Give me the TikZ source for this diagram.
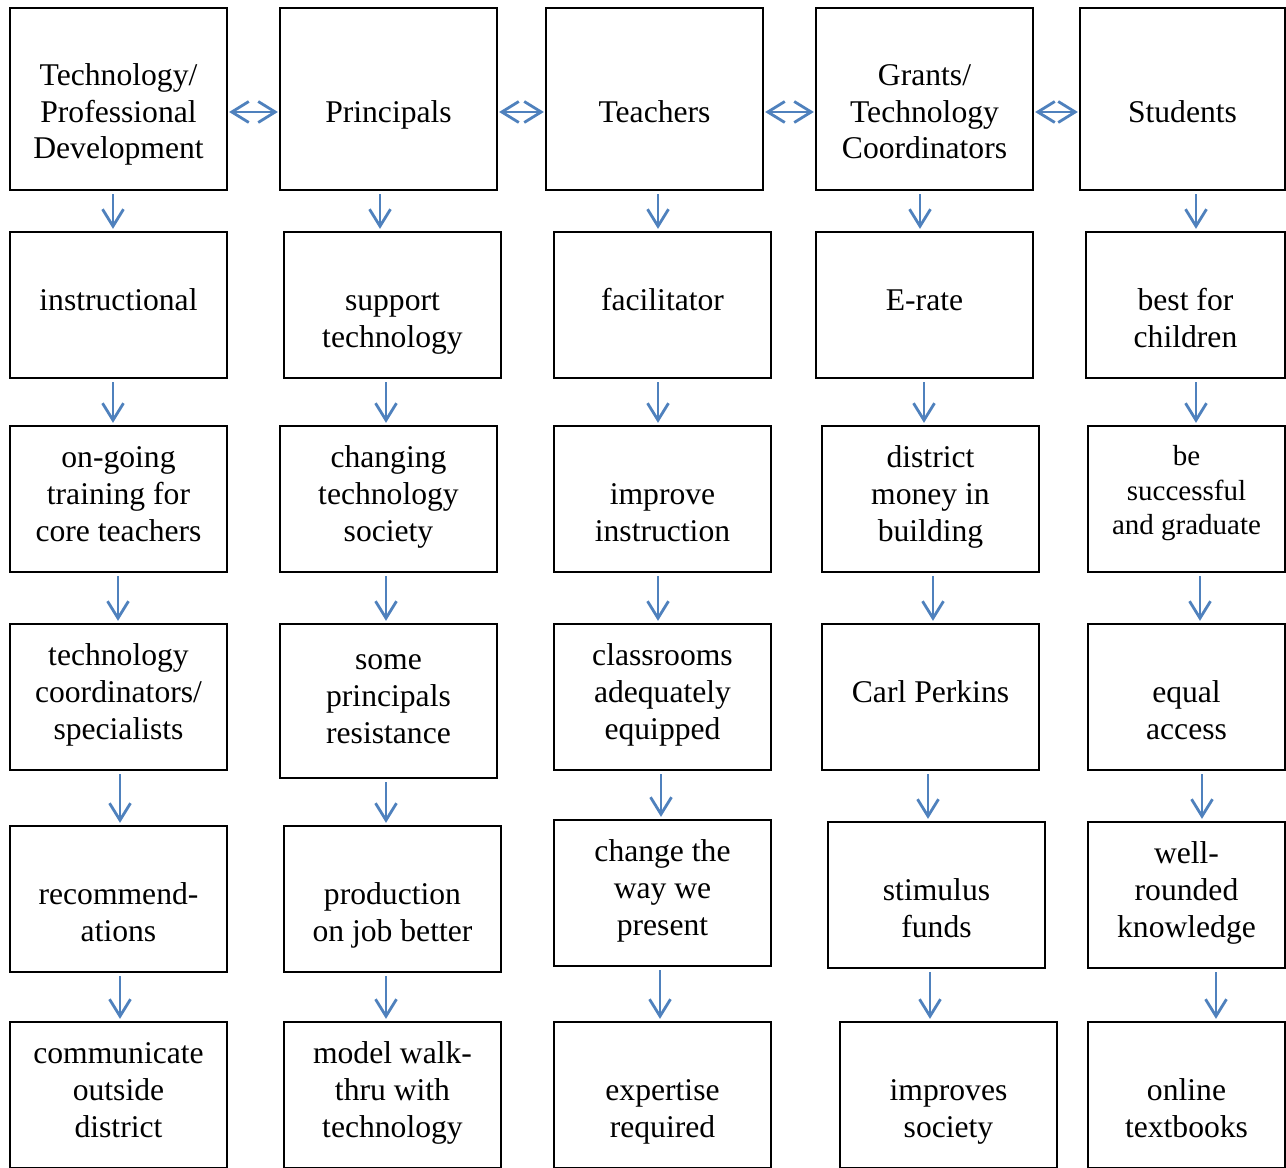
\documentclass[tikz,border=0pt]{standalone}
\usepackage{fontspec}
\setmainfont{Liberation Serif}
\usetikzlibrary{arrows.meta}

\definecolor{arrowblue}{RGB}{79,129,189}

% invisible struts that put the lines where the boxes have them
\newcommand{\upstrut}{\rule{0pt}{18.6pt}}
\newcommand{\downstrut}{\rule[-12.6pt]{0pt}{0pt}}
\newcommand{\headup}{\rule{0pt}{30.8pt}}
\newcommand{\headdown}{\rule[-4.5pt]{0pt}{0pt}}

\begin{document}
\begin{tikzpicture}[
    x=0.02cm, y=-0.02cm,
    % Node styles
    box/.style={
        rectangle,
        draw=black,
        line width=1.3pt,
        minimum width=4.34cm,
        minimum height=2.92cm,
        inner sep=1pt,
        align=center,
        font=\fontsize{18}{21}\selectfont
    },
    headbox/.style={
        box,
        minimum height=3.64cm
    },
    narrowbox/.style={
        box,
        minimum width=3.94cm
    },
    arrow/.style={
        -{Straight Barb[length=0.34cm, width=0.42cm]},
        line width=1.6pt,
        draw=arrowblue,
        shorten <=0.06cm,
        shorten >=0.04cm
    },
    dblarrow/.style={
        {Straight Barb[length=0.34cm, width=0.42cm]}-{Straight Barb[length=0.34cm, width=0.42cm]},
        line width=1.6pt,
        draw=arrowblue,
        shorten <=0.02cm,
        shorten >=0.02cm
    }
]

\useasboundingbox (0,0) rectangle (1286,1168);

% Row 1: the groups
\node[headbox] (a1) at (118.5,99) {\headup Technology/\\Professional\\Development\headdown};
\node[headbox] (b1) at (388.5,99) {\headup Principals\headdown};
\node[headbox] (c1) at (654.5,99) {\headup Teachers\headdown};
\node[headbox] (d1) at (924.5,99) {\headup Grants/\\Technology\\Coordinators\headdown};
\node[headbox, minimum width=4.10cm] (e1) at (1182.5,99) {\headup Students\headdown};

% Row 2
\node[box] (a2) at (118.5,305) {\upstrut instructional\downstrut};
\node[box] (b2) at (392.5,305) {\upstrut\\support\\technology\downstrut};
\node[box] (c2) at (662.5,305) {\upstrut facilitator\downstrut};
\node[box] (d2) at (924.5,305) {\upstrut E-rate\downstrut};
\node[box, minimum width=3.98cm] (e2) at (1185.5,305) {\upstrut\\best for\\children\downstrut};

% Row 3
\node[box] (a3) at (118.5,499) {\upstrut on-going\\training for\\core teachers\downstrut};
\node[box] (b3) at (388.5,499) {\upstrut changing\\technology\\society\downstrut};
\node[box] (c3) at (662.5,499) {\upstrut\\improve\\instruction\downstrut};
\node[box] (d3) at (930.5,499) {\upstrut district\\money in\\building\downstrut};
\node[narrowbox, font=\fontsize{16.5}{19.5}\selectfont] (e3) at (1186.5,499) {\rule{0pt}{14pt}be\\successful\\and graduate\downstrut};

% Row 4
\node[box] (a4) at (118.5,697) {\upstrut technology\\coordinators/\\specialists\downstrut};
\node[box, minimum height=3.08cm] (b4) at (388.5,701) {\upstrut some\\principals\\resistance\downstrut};
\node[box] (c4) at (662.5,697) {\upstrut classrooms\\adequately\\equipped\downstrut};
\node[box] (d4) at (930.5,697) {\upstrut Carl Perkins\downstrut};
\node[narrowbox] (e4) at (1186.5,697) {\upstrut\\equal\\access\downstrut};

% Row 5
\node[box] (a5) at (118.5,899) {\upstrut\\recommend-\\ations\downstrut};
\node[box] (b5) at (392.5,899) {\upstrut\\production\\on job better\downstrut};
\node[box] (c5) at (662.5,893) {\upstrut change the\\way we\\present\downstrut};
\node[box] (d5) at (936.5,895) {\upstrut\\stimulus\\funds\downstrut};
\node[narrowbox] (e5) at (1186.5,895) {\upstrut well-\\rounded\\knowledge\downstrut};

% Row 6
\node[box] (a6) at (118.5,1095) {\upstrut communicate\\outside\\district\downstrut};
\node[box] (b6) at (392.5,1095) {\upstrut model walk-\\thru with\\technology\downstrut};
\node[box] (c6) at (662.5,1095) {\upstrut\\expertise\\required\downstrut};
\node[box] (d6) at (948.5,1095) {\upstrut\\improves\\society\downstrut};
\node[narrowbox] (e6) at (1186.5,1095) {\upstrut\\online\\textbooks\downstrut};

% Arrows between the groups
\foreach \s/\t in {a1/b1, b1/c1, c1/d1, d1/e1} {
    \draw[dblarrow] ([yshift=-0.26cm]\s.east) coordinate (tmp) -- (tmp -| \t.west);
}

% Arrows down each column
\foreach \s/\t/\ax in {a1/a2/113, a2/a3/113, a3/a4/118, a4/a5/120, a5/a6/120,
                       b1/b2/380, b2/b3/386, b3/b4/386, b4/b5/386, b5/b6/386,
                       c1/c2/658, c2/c3/658, c3/c4/658, c4/c5/661, c5/c6/660,
                       d1/d2/920, d2/d3/924, d3/d4/933, d4/d5/928, d5/d6/930,
                       e1/e2/1196, e2/e3/1196, e3/e4/1200, e4/e5/1202, e5/e6/1216} {
    \draw[arrow] (\ax,0 |- \s.south) -- (\ax,0 |- \t.north);
}

\end{tikzpicture}
\end{document}
